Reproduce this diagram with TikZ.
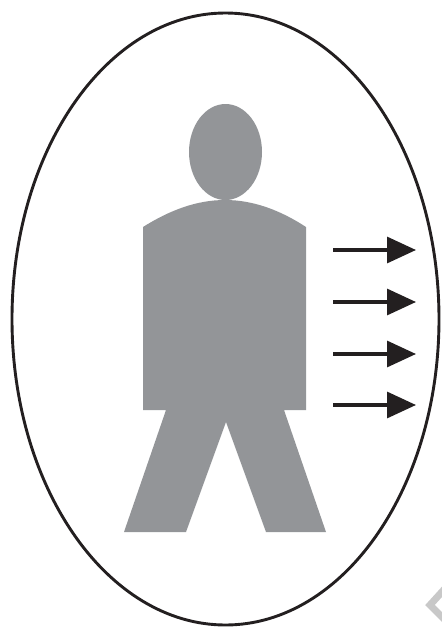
\documentclass[tikz,border=0pt]{standalone}
\usetikzlibrary{arrows.meta}
\definecolor{figgray}{RGB}{147,149,152}
\definecolor{inkblack}{RGB}{35,31,32}
\definecolor{markgray}{RGB}{200,200,200}
\tikzset{
  outline/.style={draw=inkblack,line width=2.9pt},
  figure/.style={fill=figgray},
  flowarrow/.style={draw=inkblack,line width=3.2pt,-{Triangle[length=29pt,width=26pt]}},
}
\begin{document}
\begin{tikzpicture}[x=1pt,y=-1pt]
\path[use as bounding box] (0,0) rectangle (442,627);
\draw[outline] (225.5,319) ellipse[x radius=213.5,y radius=306];
\fill[figure] (225.5,152) ellipse[x radius=36.5,y radius=48];
\fill[figure] (143,227) .. controls (170,210) and (197,200) .. (225,200) .. controls (253,200) and (280,210) .. (306,227)--(306,410)--(284,410)--(326,532)--(266,532)--(226,422)--(186,532)--(124,532)--(166,410)--(143,410)--cycle;
\foreach \y/\name in {250/a,302/b,354/c,405/d}{
  \coordinate (tail\name) at (333,\y);
  \coordinate (tip\name) at (416,\y);
  \draw[flowarrow] (tail\name) -- (tip\name);
}
\begin{scope}
\clip (0,0) rectangle (442,627);
\draw[markgray,line width=7pt,miter limit=4] (450,583)--(430,605)--(450,625);
\end{scope}
\end{tikzpicture}
\end{document}
